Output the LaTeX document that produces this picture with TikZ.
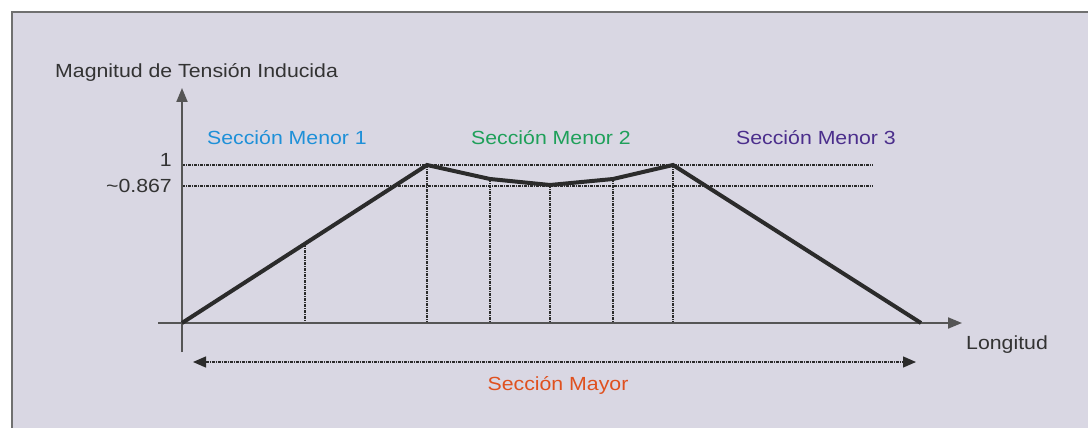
\documentclass[tikz,border=0pt]{standalone}
\usepackage{fontspec}
\setmainfont{Liberation Sans}[FakeStretch=1.12]
\usetikzlibrary{arrows.meta}
\definecolor{bgc}{HTML}{D9D7E3}
\definecolor{framec}{HTML}{707070}
\definecolor{axisc}{HTML}{555555}
\definecolor{curvec}{HTML}{2B2B2B}
\definecolor{txtc}{HTML}{333333}
\definecolor{blueT}{HTML}{1E90D8}
\definecolor{greenT}{HTML}{1FA05A}
\definecolor{purpleT}{HTML}{4B2E8C}
\definecolor{orangeT}{HTML}{E0501E}
\begin{document}
\begin{tikzpicture}[x=1pt,y=-1pt,
  lbl/.style={inner sep=0pt, font=\fontsize{19}{22}\selectfont, text=txtc},
  axisline/.style={draw=axisc, line width=2pt},
  tip/.style={-{Triangle[length=14pt,width=11pt]}},
  guide/.style={draw=curvec, line width=1.3pt, dash pattern=on 3pt off 1pt on 1pt off 1pt},
  curve/.style={draw=curvec, line width=4pt, line join=miter}]
\useasboundingbox (0,0) rectangle (1088,428);
\fill[white] (0,0) rectangle (1088,428);
\filldraw[fill=bgc, draw=framec, line width=1.5pt] (12,12) rectangle (1100,440);
% key coordinates
\coordinate (O) at (182,323);
\coordinate (ybot) at (182,352);
\coordinate (ytop) at (182,88);
\coordinate (xl) at (158,323);
\coordinate (xr) at (962,323);
\coordinate (p1) at (427,165);
\coordinate (p2) at (490,179);
\coordinate (p3) at (550,185);
\coordinate (p4) at (613,179);
\coordinate (p5) at (673,165);
\coordinate (pe) at (921,323);
\coordinate (q) at (305,244);
% guides
\coordinate (h1a) at (182,165); \coordinate (h1b) at (873,165);
\coordinate (h2a) at (182,186); \coordinate (h2b) at (873,186);
\path[guide] (h1a) -- (h1b);
\path[guide] (h2a) -- (h2b);
\coordinate (b0) at (305,323);
\coordinate (b1) at (427,323);
\coordinate (b2) at (490,323);
\coordinate (b3) at (550,323);
\coordinate (b4) at (613,323);
\coordinate (b5) at (673,323);
\path[guide] (q) -- (b0);
\path[guide] (p1) -- (b1);
\path[guide] (p2) -- (b2);
\path[guide] (p3) -- (b3);
\path[guide] (p4) -- (b4);
\path[guide] (p5) -- (b5);
% axes
\draw[axisline, tip] (ybot) -- (ytop);
\draw[axisline, tip] (xl) -- (xr);
% curve
\path[curve] (O) -- (p1) -- (p2) -- (p3) -- (p4) -- (p5) -- (pe);
% major section arrow
\coordinate (ma) at (193,362);
\coordinate (mb) at (916,362);
\draw[guide, {Triangle[length=13pt,width=11pt]}-{Triangle[length=13pt,width=11pt]}] (ma) -- (mb);
% labels
\node[lbl, anchor=west] (ylab) at (55,72) {Magnitud de Tensión Inducida};
\node[lbl, anchor=west] (xlab) at (966,345) {Longitud};
\node[lbl, anchor=east] (one) at (172,160) {1};
\node[lbl, anchor=east] (val) at (172,186) {\raisebox{0pt}{\textasciitilde}0.867};
\node[lbl, text=blueT] (s1) at (287,138) {Sección Menor 1};
\node[lbl, text=greenT] (s2) at (551,138) {Sección Menor 2};
\node[lbl, text=purpleT] (s3) at (816,138) {Sección Menor 3};
\node[lbl, text=orangeT] (smay) at (558,385) {Sección Mayor};
\end{tikzpicture}
\end{document}
